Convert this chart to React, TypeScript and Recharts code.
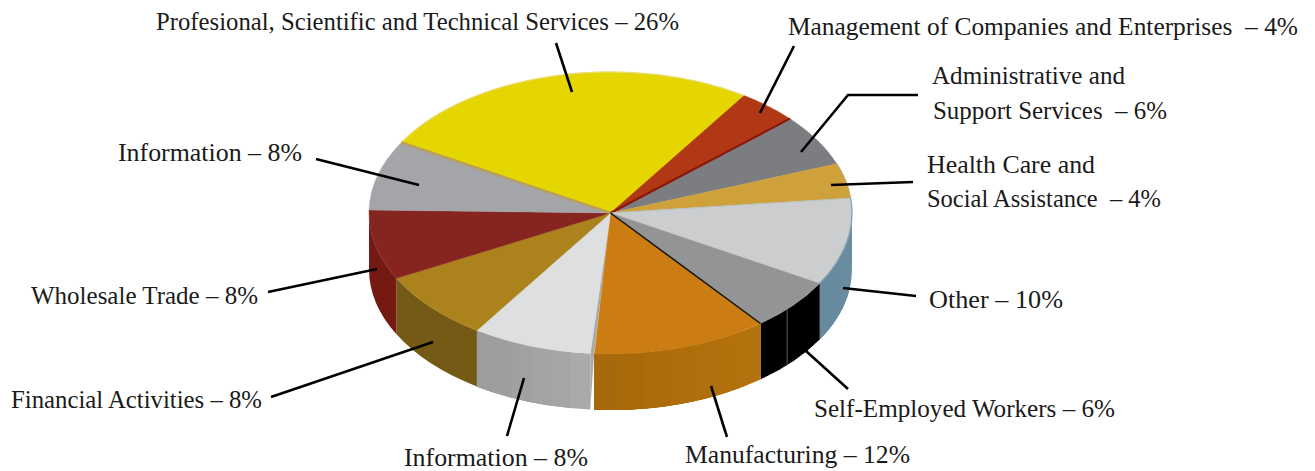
import React from 'react';
import { PieChart, Pie } from 'recharts';

const CATEGORIES = [
  'Profesional, Scientific and Technical Services',
  'Management of Companies and Enterprises',
  'Administrative and Support Services',
  'Health Care and Social Assistance',
  'Other',
  'Self-Employed Workers',
  'Manufacturing',
  'Information (front)',
  'Financial Activities',
  'Wholesale Trade',
  'Information (back)',
];
const VALUES = [26, 4, 6, 4, 10, 6, 12, 8, 8, 8, 8];
const TOP_COLORS = ['#E6D600', '#B13815', '#7C7D80', '#CFA13B', '#CBCDCF', '#939495', '#CB7D14', '#DEDFE1', '#AB821B', '#862420', '#A4A5A8'];
// Wall facets, listed from the right-hand end of each slice to its left-hand end.
const WALL_FACETS: string[][] = [
  [], [], [], [],
  ['#6B8DA2', '#6A8CA1', '#688BA0', '#678A9F'],
  ['#000000'],
  ['#B4720E', '#B2710D', '#B0700D', '#AE6E0C', '#AC6C0B', '#AA6A0A', '#A8690A'],
  ['#A9AAAC', '#A4A5A7', '#A2A3A5', '#A0A1A3', '#9D9E9F', '#9C9D9F'],
  ['#745A14'],
  ['#741A12'],
  [],
];
const LABEL_LINES: string[][] = [
  ['Profesional, Scientific and Technical Services – 26%'],
  ['Management of Companies and Enterprises  – 4%'],
  ['Administrative and', 'Support Services  – 6%'],
  ['Health Care and', 'Social Assistance  – 4%'],
  ['Other – 10%'],
  ['Self-Employed Workers – 6%'],
  ['Manufacturing – 12%'],
  ['Information – 8%'],
  ['Financial Activities – 8%'],
  ['Wholesale Trade – 8%'],
  ['Information – 8%'],
];

// Hand-placed annotation layout: [x, baseline, width] for each text line and the leader path.
const LABEL_BOXES: number[][][] = [
  [[156, 30, 523]],
  [[788, 35, 510]],
  [[932, 84, 193], [933, 119, 234]],
  [[927, 173, 168], [927, 207, 234]],
  [[929, 308, 134]],
  [[814, 417, 301]],
  [[685, 463, 225]],
  [[404, 466, 184]],
  [[11, 408, 251]],
  [[31, 304, 227]],
  [[118, 161, 184]],
];
const LEADERS = [
  '556,43 572,92',
  '794,46 760,113',
  '918,95 848,95 801,152',
  '913,182 831,185',
  '916,296 843,288',
  '848,389 806,351',
  '727,437 711,386',
  '507,436 524,378',
  '271,397 433,342',
  '268,292 377,269',
  '316,159 419,185',
];
const RADIUS_EDGES: Record<number, [number, string, number]> = {
  0: [150, '#B8A05C', 2.5],
  1: [42, '#8E1408', 2],
  3: [6, '#B9C2C4', 1],
  5: [-51.6, '#111111', 1.5],
};
const RIM_COLORS: Record<number, string> = { 0: '#E9DC7A', 3: '#C2A868', 4: '#7F9DB0' };

const FLATTEN = 141 / 241.5;
const DEPTH = 56;
const rad = (d: number) => (d * Math.PI) / 180;
const pt = (cx: number, cy: number, r: number, a: number, dz = 0) =>
  `${(cx + r * Math.cos(rad(a))).toFixed(2)} ${(cy - r * FLATTEN * Math.sin(rad(a)) + dz).toFixed(2)}`;
const arcTo = (cx: number, cy: number, r: number, from: number, to: number, dz = 0) =>
  `A ${r} ${r * FLATTEN} 0 ${Math.abs(from - to) > 180 ? 1 : 0} ${to < from ? 1 : 0} ${pt(cx, cy, r, to, dz)}`;

const TopFace = (p: any) => {
  const { cx, cy, outerRadius: r, startAngle, endAngle, index } = p;
  const end = index === 6 ? endAngle + 1 : endAngle;
  const d = `M ${pt(cx, cy, 0, 0)} L ${pt(cx, cy, r, startAngle)} ${arcTo(cx, cy, r, startAngle, end)} Z`;
  return <path d={d} fill={TOP_COLORS[index]} stroke={TOP_COLORS[index]} strokeWidth={0.4} />;
};

const WallFace = (p: any) => {
  const { cx, cy, outerRadius: r, startAngle, endAngle, index } = p;
  const facets = WALL_FACETS[index];
  if (!facets.length) return <g />;
  const hi = Math.min(startAngle, 0);
  const lo = Math.max(endAngle, -180) + (index === 6 ? 1 : 0);
  const step = (hi - lo) / facets.length;
  return (
    <g>
      {facets.map((c, i) => {
        // Each facet runs on to the slice's far end and the next one paints over it, so no seams show.
        const a = hi - i * step;
        const d = `M ${pt(cx, cy, r, a)} ${arcTo(cx, cy, r, a, lo)} L ${pt(cx, cy, r, lo, DEPTH)} ${arcTo(cx, cy, r, lo, a, DEPTH)} Z`;
        return <path key={i} d={d} fill={c} />;
      })}
      {index === 5 && (
        <path d={`M ${pt(cx, cy, r, -43)} L ${pt(cx, cy, r, -43, DEPTH)}`} stroke="#55585A" strokeWidth={1} />
      )}
      {index === 7 && (
        <path
          d={`M ${pt(cx, cy, 0, 0)} L ${pt(cx, cy, r, startAngle + 0.9)} L ${pt(cx, cy, r, startAngle, DEPTH)} L ${pt(cx, cy, r, startAngle)} Z`}
          fill="#A9AAAC"
        />
      )}
    </g>
  );
};

const EdgeFace = (p: any) => {
  const { cx, cy, outerRadius: r, startAngle, endAngle, index } = p;
  const edge = RADIUS_EDGES[index];
  const rim = RIM_COLORS[index];
  return (
    <g fill="none">
      {rim && (
        <path
          d={`M ${pt(cx, cy, r, startAngle)} ${arcTo(cx, cy, r, startAngle, endAngle)}`}
          stroke={rim}
          strokeWidth={1.2}
        />
      )}
      {edge && <path d={`M ${pt(cx, cy, 0, 0)} L ${pt(cx, cy, r, edge[0])}`} stroke={edge[1]} strokeWidth={edge[2]} />}
    </g>
  );
};

const renderLabel = (p: any) => {
  const i = p.index;
  return (
    <g>
      <polyline points={LEADERS[i]} fill="none" stroke="#000" strokeWidth={2.6} />
      {LABEL_LINES[i].map((line, j) => {
        const [x, y, w] = LABEL_BOXES[i][j];
        return (
          <text
            key={j}
            x={x}
            y={y}
            textLength={w}
            lengthAdjust="spacingAndGlyphs"
            fontFamily="'Liberation Serif', serif"
            fontSize={24.5}
            fill="#1A1A1A"
            style={{ whiteSpace: 'pre' }}
          >
            {line}
          </text>
        );
      })}
    </g>
  );
};

const rows = CATEGORIES.map((name, i) => ({ name, value: VALUES[i] }));

const shared = {
  data: rows,
  dataKey: 'value',
  nameKey: 'name',
  cx: 610.5,
  cy: 213,
  innerRadius: 0,
  outerRadius: 241.5,
  startAngle: 150,
  endAngle: -210,
  paddingAngle: 0,
  stroke: 'none',
  isAnimationActive: false,
};

export default function App() {
  return (
    <div style={{ position: 'absolute', left: 0, top: 0, width: 1315, height: 471, background: '#fff' }}>
      <PieChart width={1315} height={471} margin={{ top: 0, right: 0, bottom: 0, left: 0 }}>
        <Pie {...shared} shape={WallFace} />
        <Pie {...shared} shape={TopFace} />
        <Pie {...shared} shape={EdgeFace} label={renderLabel} labelLine={false} />
      </PieChart>
    </div>
  );
}
